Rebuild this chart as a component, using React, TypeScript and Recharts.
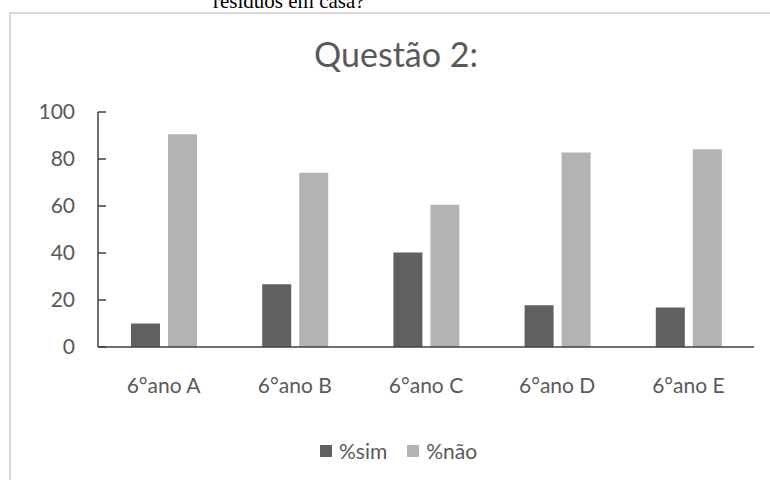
import { BarChart, Bar, XAxis, YAxis, Legend } from "recharts";

// answers per class, in percent
const turmas = ["6°ano A", "6°ano B", "6°ano C", "6°ano D", "6°ano E"];
const sim = [10, 26.7, 40.2, 17.8, 16.8];
const nao = [90.5, 74.2, 60.5, 82.8, 84.1];
const yTicks = [0, 20, 40, 60, 80, 100];

const data = turmas.map((turma, i) => ({ turma, sim: sim[i], nao: nao[i] }));

const FONT = "Lato, 'Open Sans', sans-serif";
const TEXT = "#595959";
const AXIS = "#404040";
const DARK = "#606060";
const LIGHT = "#b3b3b3";

const legendItems = [
  { label: "%sim", color: DARK },
  { label: "%não", color: LIGHT },
];

function LegendContent() {
  return (
    <div style={{ display: "flex", alignItems: "center", height: 24 }}>
      {legendItems.map((item) => (
        <div key={item.label} style={{ display: "flex", alignItems: "center", marginRight: 20 }}>
          <span style={{ width: 12, height: 12, background: item.color, marginRight: 7 }} />
          <span style={{ fontFamily: FONT, fontSize: 21, color: TEXT, lineHeight: "24px" }}>
            {item.label}
          </span>
        </div>
      ))}
    </div>
  );
}

export default function App() {
  return (
    <div
      style={{
        position: "fixed",
        left: 0,
        top: 0,
        width: 770,
        height: 480,
        overflow: "hidden",
        background: "#fff",
      }}
    >
      <div
        style={{
          position: "absolute",
          left: 0,
          top: 12,
          width: 800,
          height: 500,
          marginLeft: 9,
          border: "2px solid #d9d9d9",
          boxSizing: "border-box",
        }}
      />
      <div
        style={{
          position: "absolute",
          left: 0,
          top: 34,
          width: 792,
          textAlign: "center",
          fontFamily: FONT,
          fontSize: 34,
          lineHeight: "40px",
          color: TEXT,
        }}
      >
        Questão 2:
      </div>
      <div style={{ position: "absolute", left: 0, top: 0 }}>
        <BarChart
          width={770}
          height={480}
          data={data}
          margin={{ top: 112, right: 16, bottom: 0, left: 0 }}
          barSize={29}
          barGap={8}
        >
          <XAxis
            dataKey="turma"
            height={133}
            axisLine={{ stroke: AXIS, strokeWidth: 1.5 }}
            tickLine={false}
            tickSize={0}
            tickMargin={31}
            interval={0}
            tick={{ fill: TEXT, fontSize: 21, fontFamily: FONT }}
          />
          <YAxis
            domain={[0, 100]}
            ticks={yTicks}
            interval={0}
            width={98}
            axisLine={{ stroke: AXIS, strokeWidth: 1.5 }}
            tickLine={{ stroke: AXIS, strokeWidth: 1.5 }}
            tickSize={-8}
            tickMargin={31}
            tick={{ fill: TEXT, fontSize: 21, fontFamily: FONT }}
          />
          <Legend
            verticalAlign="middle"
            layout="horizontal"
            align="center"
            wrapperStyle={{ top: 439, left: 320, width: 220 }}
            content={() => <LegendContent />}
          />
          <Bar dataKey="sim" name="%sim" fill={DARK} isAnimationActive={false} />
          <Bar dataKey="nao" name="%não" fill={LIGHT} isAnimationActive={false} />
        </BarChart>
      </div>
      {/* caption line of the page above, cut by the top edge */}
      <div
        style={{
          position: "absolute",
          left: 213,
          top: -9,
          zIndex: 5,
          fontFamily: "'Liberation Serif', 'Times New Roman', serif",
          fontSize: 21,
          lineHeight: "21px",
          color: "#000",
          whiteSpace: "nowrap",
        }}
      >
        resíduos em casa?
      </div>
    </div>
  );
}
